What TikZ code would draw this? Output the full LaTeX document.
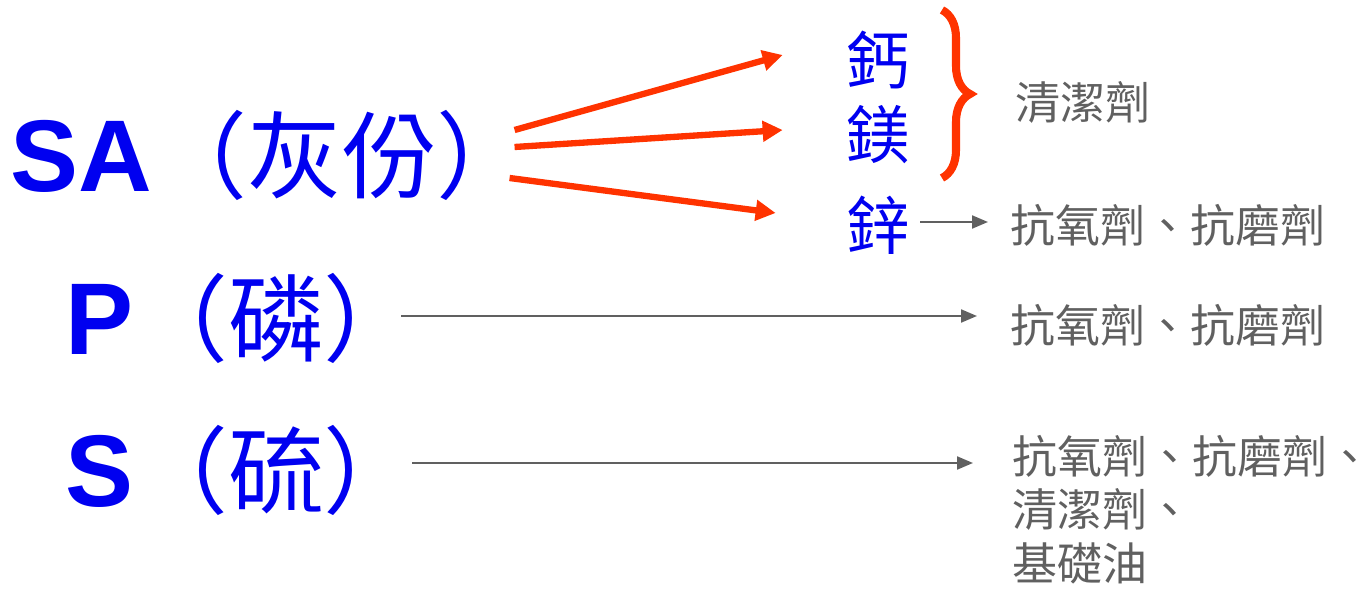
\documentclass[tikz,border=0pt]{standalone}
\usepackage{fontspec}
\setmainfont{Liberation Sans}
\newfontfamily\cjk{Noto Sans CJK TC}
\usetikzlibrary{arrows.meta, positioning, decorations.pathreplacing}
\definecolor{elemblue}{HTML}{0000F0}
\definecolor{fanred}{HTML}{FF3300}
\definecolor{usegrey}{HTML}{606060}
\newcommand{\bigzh}[1]{{\cjk\mdseries\fontsize{27}{30}\selectfont #1}}
\tikzset{
  elemlabel/.style={text=elemblue, font=\fontsize{29}{32}\selectfont\bfseries,
                    inner sep=0pt, anchor=west},
  metal/.style={text=elemblue, font=\cjk\fontsize{18}{20}\selectfont, inner sep=0pt},
  usetext/.style={text=usegrey, font=\cjk\fontsize{12.8}{15.1}\selectfont,
                  inner sep=0pt, anchor=west, align=left},
  fan/.style={-{Triangle[length=2mm,width=2mm]}, line width=1.8pt, draw=fanred},
  link/.style={-{Triangle[length=1.6mm,width=1.3mm]}, line width=0.6pt, draw=usegrey},
  redbrace/.style={decorate, decoration={brace, amplitude=2.8mm}, line width=2.3pt, draw=fanred},
}
\begin{document}
\begin{tikzpicture}
  \useasboundingbox (0,0) rectangle (13.68,-5.89);

  % elements on the left
  \node[elemlabel] (sa) at (0.10,-1.55) {SA\bigzh{（灰份）}};
  \node[elemlabel] (p)  at (0.65,-3.18) {P\bigzh{（磷）}};
  \node[elemlabel] (s)  at (0.65,-4.70) {S\bigzh{（硫）}};

  % metals
  \node[metal] (ca) at (8.78,-0.60) {鈣};
  \node[metal] (mg) at (8.78,-1.35) {鎂};
  \node[metal] (zn) at (8.78,-2.25) {鋅};

  % uses
  \node[usetext] (clean) at (10.15,-1.02) {清潔劑};
  \node[usetext] (znuse) at (10.10,-2.25) {抗氧劑、抗磨劑};
  \node[usetext] (puse)  at (10.10,-3.25) {抗氧劑、抗磨劑};
  \node[usetext, anchor=north west] (suse) at (10.12,-4.35)
    {抗氧劑、抗磨劑、\\清潔劑、\\基礎油};

  % fan of red arrows
  \draw[fan] ([xshift=-1.8mm, yshift=2.5mm]sa.east) -- ([xshift=-6.3mm, yshift=0.5mm]ca.west);
  \draw[fan] ([xshift=-1.8mm, yshift=0.8mm]sa.east) -- ([xshift=-6.3mm, yshift=0.5mm]mg.west);
  \draw[fan] ([xshift=-2.3mm, yshift=-2.3mm]sa.east) -- ([xshift=-7mm, yshift=1.2mm]zn.west);

  % brace over Ca and Mg
  \coordinate (brtop) at (9.42,-0.10);
  \coordinate (brbot) at (9.42,-1.78);
  \draw[redbrace] (brtop) -- (brbot);

  % grey links
  \draw[link] ([xshift=1mm, yshift=0.3mm]zn.east) -- ([xshift=-2.2mm, yshift=0.3mm]znuse.west);
  \draw[link] ([xshift=-1.8mm, yshift=0.2mm]p.east)
    -- ([xshift=-3.3mm, yshift=0.2mm]p.east -| puse.west);
  \draw[link] ([xshift=-0.7mm, yshift=0.7mm]s.east)
    -- ([xshift=-3.9mm, yshift=0.7mm]s.east -| suse.west);
\end{tikzpicture}
\end{document}
